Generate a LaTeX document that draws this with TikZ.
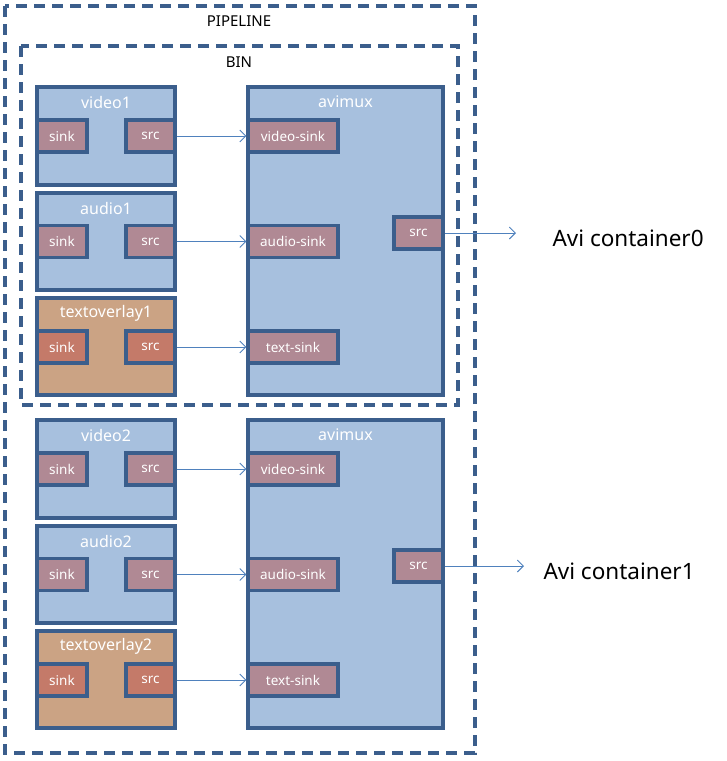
\documentclass[tikz,border=0pt]{standalone}
\usepackage{fontspec}
\setmainfont{Noto Sans}
\usetikzlibrary{arrows.meta}
\definecolor{bfill}{HTML}{A7C0DE}
\definecolor{bline}{HTML}{3B5E8C}
\definecolor{pfill}{HTML}{B08994}
\definecolor{tfill}{HTML}{CBA384}
\definecolor{tpfill}{HTML}{C47A69}
\definecolor{aline}{HTML}{4F81BD}
\tikzset{
  blk/.style={draw=bline, line width=3.2pt, fill=#1, inner sep=0pt},
  port/.style={draw=bline, line width=3.2pt, fill=#1, inner sep=0pt, minimum height=32pt, text=white, font=\fontsize{13.5}{13.5}\selectfont},
  ttl/.style={text=white, font=\fontsize{16}{16}\selectfont},
  frame/.style={draw=bline, line width=3.2pt, dash pattern=on 11pt off 7pt},
  lab/.style={font=\fontsize{15}{15}\selectfont},
  con/.style={draw=aline, line width=0.9pt, -{Straight Barb[length=6pt,width=12pt,line width=0.9pt]}},
  big/.style={font=\fontsize{22.5}{22.5}\selectfont, anchor=west}
}
\begin{document}
\begin{tikzpicture}[x=1pt,y=-1pt]
\useasboundingbox (0,0) rectangle (727,761);
\path[frame] (5,6) rectangle (475,753);
\path[frame] (21,46) rectangle (458,405);
\node[lab] (plab) at (239,21) {PIPELINE};
\node[lab] (blab) at (239,62) {BIN};
\foreach \g/\dy/\c/\ax/\tx in {1/0/0/516/549, 2/333/1/524/540}{
  % avimux
  \node[blk=bfill, minimum width=195pt, minimum height=308pt] (mux\g) at (345.5,241+\dy) {};
  \node[ttl] (muxt\g) at (345.5,102+\dy) {avimux};
  \node[port=pfill, minimum width=90pt] (vs\g) at (293,136+\dy) {video-sink};
  \node[port=pfill, minimum width=90pt] (as\g) at (293,241.5+\dy) {audio-sink};
  \node[port=pfill, minimum width=90pt] (ts\g) at (293,347+\dy) {text-sink};
  \node[port=pfill, minimum width=49pt] (ms\g) at (418.5,233+\dy) {src};
  % sources
  \node[blk=bfill, minimum width=138pt, minimum height=98pt] (v\g) at (106,136+\dy) {};
  \node[ttl] (vt\g) at (106,102+\dy) {video\g};
  \node[port=pfill, minimum width=50pt] (vk\g) at (62,136+\dy) {sink};
  \node[port=pfill, minimum width=49pt] (vr\g) at (150.5,136+\dy) {src};
  \node[blk=bfill, minimum width=138pt, minimum height=97pt] (a\g) at (106,241.5+\dy) {};
  \node[ttl] (at\g) at (106,208+\dy) {audio\g};
  \node[port=pfill, minimum width=50pt] (ak\g) at (62,241.5+\dy) {sink};
  \node[port=pfill, minimum width=49pt] (ar\g) at (150.5,241.5+\dy) {src};
  \node[blk=tfill, minimum width=138pt, minimum height=97pt] (t\g) at (106,346.5+\dy) {};
  \node[ttl] (tt\g) at (106,313+\dy) {textoverlay\g};
  \node[port=tpfill, minimum width=50pt] (tk\g) at (62,347+\dy) {sink};
  \node[port=tpfill, minimum width=49pt] (tr\g) at (150.5,347+\dy) {src};
  % connectors
  \draw[con] (vr\g.east) -- (vs\g.west);
  \draw[con] (ar\g.east) -- (as\g.west);
  \draw[con] (tr\g.east) -- (ts\g.west);
  \coordinate (end\g) at (\ax,233+\dy);
  \draw[con] (ms\g.east) -- (end\g);
  \node[big] (ac\g) at (\tx,238+\dy) {Avi container\c};
}
\end{tikzpicture}
\end{document}
